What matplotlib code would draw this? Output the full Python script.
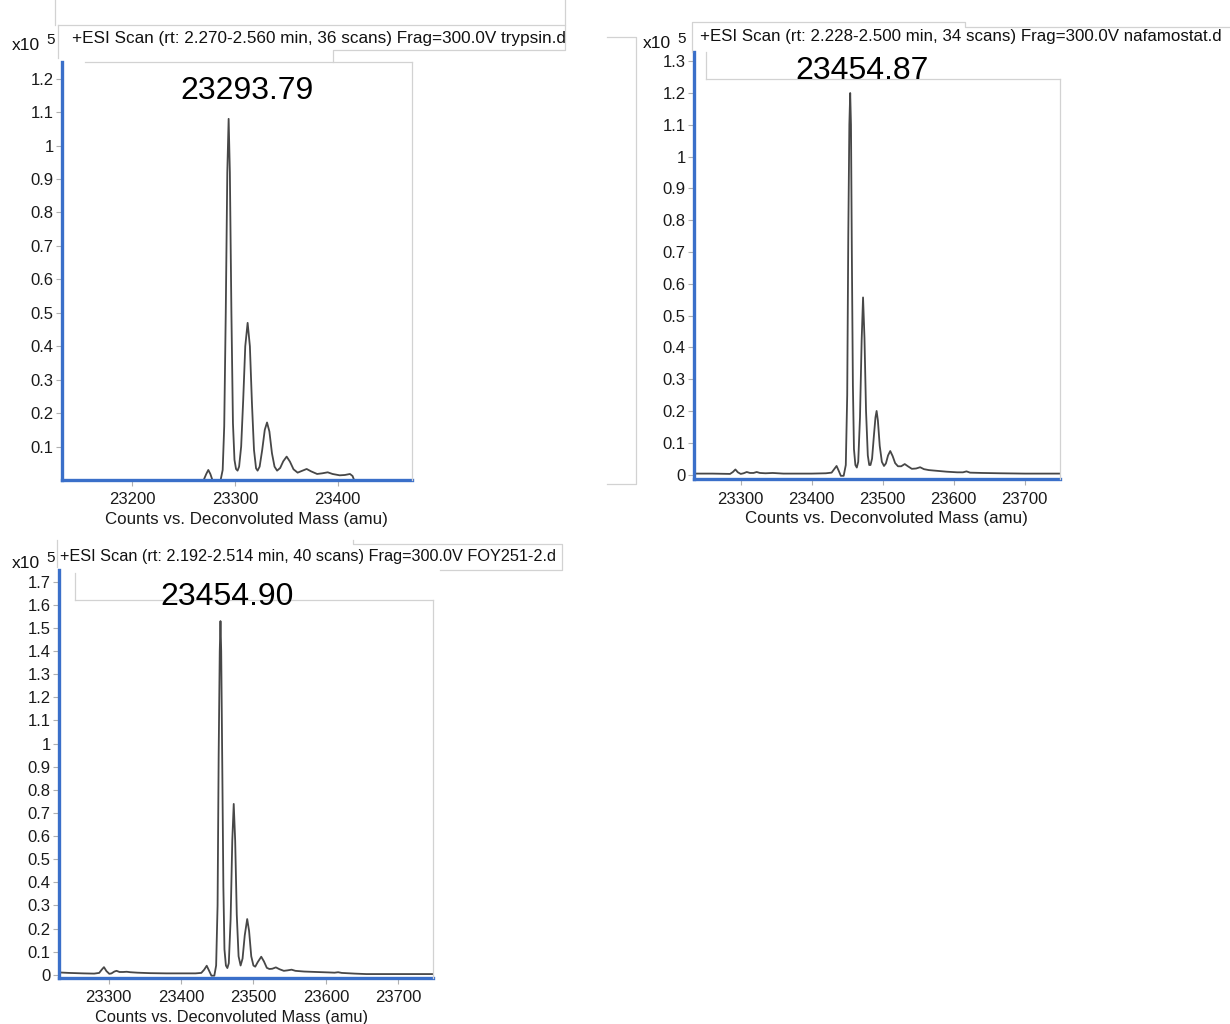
import matplotlib
matplotlib.use('Agg')
import matplotlib.pyplot as plt
from matplotlib.lines import Line2D

plt.rcParams['font.family'] = ['Liberation Sans', 'DejaVu Sans']

W, H = 1230, 1024

# ---- data (counts in units of 1e5) ----
titles = ['+ESI Scan (rt: 2.270-2.560 min, 36 scans) Frag=300.0V trypsin.d',
          '+ESI Scan (rt: 2.228-2.500 min, 34 scans) Frag=300.0V nafamostat.d',
          '+ESI Scan (rt: 2.192-2.514 min, 40 scans) Frag=300.0V FOY251-2.d']
peak_labels = ['23293.79', '23454.87', '23454.90']
xlabel = 'Counts vs. Deconvoluted Mass (amu)'

trypsin_mass = [23269.5, 23272, 23274, 23276, 23278, 23286, 23288, 23289.5, 23291,
                23292.5, 23293.8, 23295, 23296.5, 23298, 23299.5, 23301, 23302.5,
                23304, 23306, 23308, 23310, 23312.3, 23314.5, 23316.5, 23318.5,
                23320.5, 23322, 23324, 23326.5, 23329, 23331.2, 23333.5, 23336,
                23338.5, 23341, 23344, 23347, 23350.3, 23353.5, 23357, 23361, 23365,
                23369.8, 23374, 23380, 23385, 23390.3, 23395, 23402, 23407, 23412,
                23414.5, 23416]
trypsin_counts = [0.0, 0.018, 0.030, 0.018, 0.0, 0.0, 0.03, 0.16, 0.50,
                  0.92, 1.08, 0.92, 0.50, 0.17, 0.06, 0.033, 0.028,
                  0.04, 0.10, 0.24, 0.40, 0.47, 0.40, 0.23, 0.09,
                  0.035, 0.028, 0.04, 0.09, 0.15, 0.172, 0.145, 0.08,
                  0.04, 0.028, 0.036, 0.056, 0.070, 0.055, 0.032, 0.022, 0.027,
                  0.033, 0.026, 0.018, 0.020, 0.023, 0.018, 0.014, 0.015, 0.018,
                  0.012, 0.0]

nafamostat_mass = [23234, 23260, 23285, 23289, 23292.5, 23296, 23300, 23304, 23308.5,
                   23313, 23318, 23322.5, 23327, 23335, 23345, 23360, 23380, 23400,
                   23420, 23428, 23432, 23435, 23438, 23441, 23445, 23448, 23450,
                   23451.5, 23453, 23454.2, 23455.3, 23456.5, 23458, 23459.5, 23461.5,
                   23463.5, 23465.5, 23468, 23470.3, 23472.3, 23474.3, 23476.5, 23479,
                   23481, 23482.8, 23485, 23487.5, 23489.8, 23491.4, 23493.2, 23495.8,
                   23498.8, 23501.8, 23504.5, 23507.5, 23510.6, 23514, 23517.5, 23521.5,
                   23526, 23531, 23535.5, 23541, 23547, 23552.7, 23558, 23565, 23575,
                   23590, 23605, 23613, 23618, 23623, 23640, 23665, 23700, 23749]
nafamostat_counts = [0.003, 0.003, 0.002, 0.008, 0.016, 0.007, 0.002, 0.004, 0.008,
                     0.005, 0.005, 0.008, 0.005, 0.004, 0.005, 0.003, 0.003, 0.003,
                     0.004, 0.006, 0.018, 0.027, 0.012, -0.004, -0.004, 0.03, 0.25,
                     0.75, 1.10, 1.20, 1.10, 0.70, 0.28, 0.08, 0.03,
                     0.022, 0.04, 0.18, 0.42, 0.557, 0.43, 0.20, 0.06,
                     0.03, 0.03, 0.05, 0.12, 0.18, 0.20, 0.17, 0.09,
                     0.04, 0.027, 0.035, 0.060, 0.074, 0.058, 0.036, 0.026,
                     0.026, 0.033, 0.026, 0.018, 0.019, 0.023, 0.017, 0.014, 0.012,
                     0.009, 0.007, 0.007, 0.010, 0.006, 0.005, 0.004, 0.003, 0.003]

foy_mass = [23232, 23245, 23265, 23280, 23287, 23290.5, 23293.6, 23297, 23301,
            23304, 23308, 23311, 23315, 23320, 23325, 23330, 23340, 23357, 23380,
            23400, 23420, 23428, 23432, 23435.5, 23439, 23442, 23446, 23448.5,
            23450.5, 23452, 23453.5, 23454.5, 23455.5, 23457, 23458.5, 23460,
            23462, 23464, 23466, 23468.5, 23470.8, 23472.8, 23474.8, 23477,
            23479.5, 23482.3, 23485, 23488, 23491.4, 23494, 23497, 23500,
            23502.5, 23506, 23510.8, 23514.5, 23518.5, 23522, 23526, 23531,
            23536, 23542, 23547, 23552.7, 23558, 23570, 23587, 23605, 23612,
            23617, 23622, 23640, 23656, 23700, 23748]
foy_counts = [0.010, 0.008, 0.006, 0.005, 0.008, 0.022, 0.033, 0.016, 0.004,
              0.006, 0.014, 0.017, 0.012, 0.012, 0.013, 0.011, 0.009, 0.007, 0.006,
              0.006, 0.006, 0.008, 0.022, 0.039, 0.016, -0.004, -0.004, 0.04,
              0.30, 0.95, 1.40, 1.53, 1.40, 0.90, 0.38, 0.11,
              0.04, 0.029, 0.05, 0.24, 0.58, 0.739, 0.58, 0.26,
              0.08, 0.04, 0.07, 0.17, 0.241, 0.19, 0.08, 0.04,
              0.035, 0.055, 0.078, 0.058, 0.030, 0.025, 0.026, 0.032,
              0.024, 0.017, 0.019, 0.022, 0.017, 0.014, 0.012, 0.010, 0.009,
              0.011, 0.008, 0.005, 0.003, 0.003, 0.003]

xticks_a = [23200, 23300, 23400]
xticks_b = [23300, 23400, 23500, 23600, 23700]
yticks_a = [0.1, 0.2, 0.3, 0.4, 0.5, 0.6, 0.7, 0.8, 0.9, 1.0, 1.1, 1.2]
yticks_b = [0.0, 0.1, 0.2, 0.3, 0.4, 0.5, 0.6, 0.7, 0.8, 0.9, 1.0, 1.1, 1.2, 1.3]
yticks_c = [0.0, 0.1, 0.2, 0.3, 0.4, 0.5, 0.6, 0.7, 0.8, 0.9, 1.0, 1.1, 1.2, 1.3,
            1.4, 1.5, 1.6, 1.7]

BLUE = '#3a6fc9'
FRAME = '#d2d2d2'
TICK = '#b0b0b0'
TRACE = '#474747'


def fx(x):
    return x / W


def fy(y):
    return 1 - y / H


def fig_line(fig, xs, ys):
    fig.add_artist(Line2D([fx(x) for x in xs], [fy(y) for y in ys],
                          transform=fig.transFigure, color=FRAME, lw=0.9))


def fmt(v):
    s = '%.1f' % v
    if s == '0.0':
        return '0'
    if s == '1.0':
        return '1'
    return s


def panel(fig, box, mass, counts, xlim, ylim, xticks, yticks, right_from,
          label_x=0.5, label_size=12.2):
    l, t, r, b = box
    ax = fig.add_axes([fx(l), fy(b), fx(r) - fx(l), fy(t) - fy(b)])
    ax.plot(mass, counts, color=TRACE, lw=1.3, solid_joinstyle='round')
    ax.set_xlim(xlim)
    ax.set_ylim(ylim)
    ax.set_xticks(xticks)
    ax.set_xticklabels([str(v) for v in xticks])
    ax.set_yticks(yticks)
    ax.set_yticklabels([fmt(v) for v in yticks])
    for s in ['top', 'right']:
        ax.spines[s].set_visible(False)
    for s in ['left', 'bottom']:
        ax.spines[s].set_color(BLUE)
        ax.spines[s].set_linewidth(2.4)
    ax.tick_params(axis='both', direction='out', length=4, width=0.8,
                   color=TICK, labelsize=12, labelcolor='#1a1a1a')
    ax.tick_params(axis='y', pad=2)
    ax.tick_params(axis='x', pad=5)
    ax.set_xlabel(xlabel, fontsize=label_size, color='#1a1a1a', labelpad=3)
    ax.xaxis.label.set_x(label_x)
    # light frame on the right side
    fig_line(fig, [r, r], [right_from, b])
    return ax


fig = plt.figure(figsize=(W / 100, H / 100), dpi=100)
fig.patch.set_facecolor('white')

# panel 1: trypsin
panel(fig, (62, 62, 412, 480), trypsin_mass, trypsin_counts,
      (23131.5, 23472.4), (0.0, 1.25), xticks_a, yticks_a, 62, label_x=0.526)
fig_line(fig, [85, 412], [62, 62])
fig_line(fig, [58, 565, 565, 333, 333], [25, 25, 50, 50, 62])
fig_line(fig, [58, 58], [25, 58])
fig_line(fig, [55, 55], [0, 25])
fig_line(fig, [565, 565], [0, 25])

# panel 2: nafamostat
panel(fig, (694, 52, 1060, 479), nafamostat_mass, nafamostat_counts,
      (23234.2, 23749.7), (-0.014, 1.329), xticks_b, yticks_b, 79, label_x=0.527)
fig_line(fig, [706, 1060], [79, 79])
fig_line(fig, [706, 706], [52, 79])
fig_line(fig, [692, 692, 965, 965, 1230], [52, 22, 22, 27, 27])
fig_line(fig, [607, 636, 636, 607], [37, 37, 484, 484])

# panel 3: FOY251
panel(fig, (59, 570, 433, 978), foy_mass, foy_counts,
      (23231.5, 23748.0), (-0.014, 1.751), xticks_b, yticks_c, 600,
      label_x=0.461, label_size=11.8)
fig_line(fig, [75, 433], [600, 600])
fig_line(fig, [75, 75], [573, 600])
fig_line(fig, [57, 57], [540, 567])
fig_line(fig, [353, 353, 562, 562, 440], [540, 544, 544, 570, 570])

# texts
txt = dict(color='#111111', va='center', ha='left')
fig.text(fx(72), fy(38), titles[0], fontsize=12.3, **txt)
fig.text(fx(700), fy(37), titles[1], fontsize=12.2, **txt)
fig.text(fx(60), fy(557), titles[2], fontsize=11.7, **txt)

for (x, y) in [(12, 45), (643, 44), (12, 563)]:
    fig.text(fx(x), fy(y), 'x10', fontsize=12.5, color='#111111', va='center')
    fig.text(fx(x + 34), fy(y - 5), '5', fontsize=11, color='#111111', va='center')

lab = dict(fontsize=23, color='black', ha='center', va='center')
fig.text(fx(246.5), fy(91), peak_labels[0], **lab)
fig.text(fx(862), fy(71), peak_labels[1], **lab)
fig.text(fx(227), fy(597), peak_labels[2], **lab)

fig.savefig('out.png', dpi=100, facecolor='white')
